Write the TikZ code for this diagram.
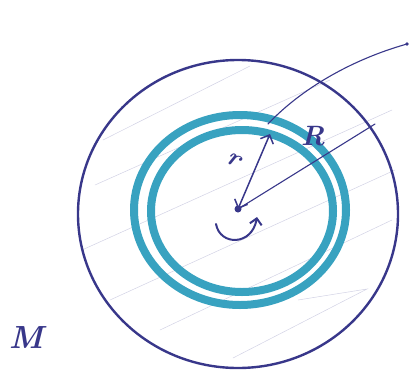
\documentclass[tikz,border=0pt]{standalone}
\usepackage{fontspec}
\usetikzlibrary{arrows.meta}
\definecolor{ink}{HTML}{38378A}
\definecolor{teal2}{HTML}{38A2C0}
\tikzset{
  inkline/.style={draw=ink, line width=2.4pt, line cap=round},
  thinink/.style={draw=ink, line width=1.5pt, line cap=round},
  ring/.style={draw=teal2, line width=8pt},
  hatch/.style={draw=ink!45, line width=0.5pt, opacity=0.5},
  lbl/.style={text=ink, font=\itshape\bfseries}
}
\begin{document}
\begin{tikzpicture}[x=1pt,y=-1pt]
\useasboundingbox (0,0) rectangle (409,381);
% faint hatch lines
\draw[hatch] (103,140) -- (250,66);
\draw[hatch] (95,185) -- (330,80);
\draw[hatch] (82,250) -- (392,110);
\draw[hatch] (110,300) -- (395,170);
\draw[hatch] (160,330) -- (392,220);
\draw[hatch] (233,358) -- (367,289) -- (298,300);
% outer circle
\draw[inkline] (238,214) ellipse [x radius=160, y radius=154];
% teal rings
\draw[ring] (240,210) ellipse [x radius=106, y radius=95];
\draw[ring] (242,211) ellipse [x radius=91, y radius=81];
% center
\coordinate (c) at (238,209);
\fill[ink] (c) circle (3.5);
\coordinate (rend) at (270,134);
\coordinate (Rend) at (375,124);
\draw[thinink, {Straight Barb[length=7pt]}-{Straight Barb[length=7pt]}] (c) -- (rend);
\draw[thinink, line width=1.1pt] (c) -- (Rend);
\node[lbl, scale=2.6, rotate=-25] (rl) at (234,160) {r};
\node[lbl, scale=2.8] (Rl) at (313,136) {R};
% curve to outside
\coordinate (a) at (268,124);
\coordinate (b) at (407,44);
\draw[thinink, line width=1.1pt] (a) .. controls (300,90) and (350,60) .. (b);
\fill[ink] (b) circle (1.8);
% rotation arrow
\coordinate (s1) at (216,224);
\coordinate (s2) at (257,217);
\draw[thinink, line width=2pt, -{Straight Barb[length=6pt]}] (s1) .. controls (220,246) and (252,246) .. (s2);
% M label
\node[lbl, scale=3.2] (M) at (26,338) {M};
\end{tikzpicture}
\end{document}
